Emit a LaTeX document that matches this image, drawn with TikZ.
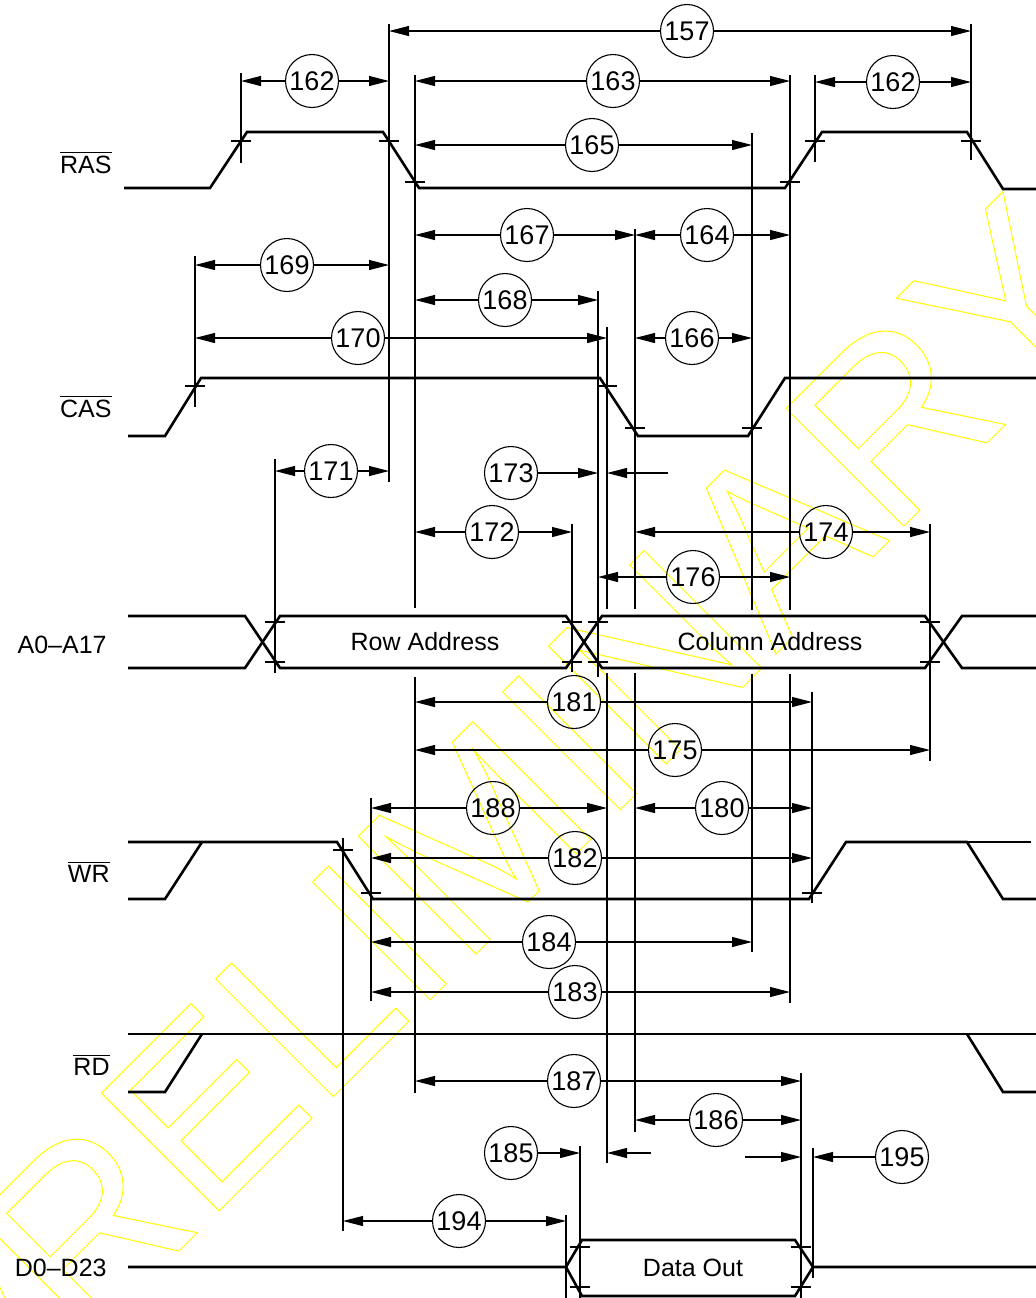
\documentclass[tikz,border=0pt]{standalone}
\usepackage{fontspec}
\setmainfont{Liberation Sans}
\usetikzlibrary{arrows.meta}

\begin{document}
\begin{tikzpicture}[
    x=0.5pt, y=-0.5pt,
    every node/.style={font=\fontsize{12.5}{14}\selectfont, inner sep=0pt},
    sig/.style={line width=1.3pt},
    thinline/.style={line width=0.55pt},
    dimline/.style={line width=0.55pt, -{Triangle[length=10pt, width=5pt]}},
    num/.style={circle, draw, line width=0.55pt, minimum size=26.5pt,
      font=\fontsize{13.5}{15}\selectfont},
  ]
    \useasboundingbox (0,0) rectangle (1036,1298);

    % 水印
    \node[rotate=45, anchor=base, font=\fontsize{121}{130}\selectfont] (wmark) at (546,884)
      {\special{pdf:literal direct 1 Tr 0.5 w 1 1 0 RG}PRELIMINARY\special{pdf:literal direct 0 Tr}};

    % 信号名
    \node[anchor=base east] (lras) at (112,173)  {$\overline{\mbox{RAS}}$};
    \node[anchor=base east] (lcas) at (112,417)  {$\overline{\mbox{CAS}}$};
    \node[anchor=base east] (ladr) at (107,653)  {A0--A17};
    \node[anchor=base east] (lwr)  at (110,882)  {$\overline{\mbox{WR}}$};
    \node[anchor=base east] (lrd)  at (110,1075) {$\overline{\mbox{RD}}$};
    \node[anchor=base east] (ldat) at (107,1276) {D0--D23};

    % 波形
    \draw[sig] (124,188) -- (210,188) -- (247,132) -- (383,132) -- (419,188) -- (785,188)
      -- (822,132) -- (967,132) -- (1003,189) -- (1036,189);
    \draw[sig] (128,436) -- (165,436) -- (201,378) -- (600,378) -- (638,436) -- (748,436)
      -- (785,378) -- (1036,378);
    \draw[sig] (128,616) -- (245,616) -- (280,668) -- (566,668) -- (602,616) -- (925,616)
      -- (962,668) -- (1036,668);
    \draw[sig] (128,668) -- (245,668) -- (280,616) -- (566,616) -- (602,668) -- (925,668)
      -- (962,616) -- (1036,616);
    \draw[sig] (128,842) -- (337,842) -- (373,899) -- (809,899) -- (846,842) -- (967,842)
      -- (1003,899) -- (1036,899);
    \draw[sig] (128,899) -- (165,899) -- (202,842);
    \draw[sig] (967,842) -- (1031,842);
    \draw[sig] (128,1034) -- (1036,1034);
    \draw[sig] (128,1092) -- (165,1092) -- (202,1034);
    \draw[sig] (967,1034) -- (1003,1092) -- (1036,1092);
    \draw[sig] (128,1267) -- (566,1267) -- (582,1240) -- (795,1240) -- (813,1267) -- (1036,1267);
    \draw[sig] (566,1267) -- (582,1296) -- (795,1296) -- (813,1267);

    % 总线上的文字
    \node[anchor=base] (trow) at (425,650)  {Row Address};
    \node[anchor=base] (tcol) at (770,650)  {Column Address};
    \node[anchor=base] (tdat) at (693,1276) {Data Out};

    % 参考线
    \foreach \x/\ya/\yb in {241/73/163, 389/24/482, 415/75/608, 415/677/1093, 195/256/407,
        275/459/673, 598/291/677, 607/327/609, 607/673/1163, 635/229/609, 635/673/1132,
        752/133/610, 752/674/952, 790/75/610, 790/674/1003, 815/75/162, 971/24/160,
        572/524/672, 930/524/761, 812/692/903, 343/838/1231, 371/798/1001,
        801/1073/1298, 580/1146/1298, 813/1148/1278, 566/1215/1298}
      \draw[thinline] (\x,\ya) -- (\x,\yb);

    % 刻度
    \foreach \x/\y in {241/141, 389/141, 415/182, 790/182, 815/141, 971/141,
        195/386, 607/386, 635/428, 752/428,
        275/622, 275/662, 572/622, 572/662, 598/622, 598/662, 930/622, 930/662,
        343/850, 371/893, 812/893, 580/1247, 580/1287, 801/1247, 801/1287}
      \draw[thinline] ({\x-10},\y) -- ({\x+10},\y);

    % 双向时间标注
    \foreach \n/\t/\xa/\xb/\y/\xc in {157/157/389/971/31/687, 162a/162/241/389/81/312,
        163/163/415/790/81/613, 162b/162/815/971/82/893, 165/165/415/752/145/592,
        167/167/415/635/235/527, 164/164/635/790/235/707, 169/169/195/389/265/287,
        168/168/415/598/300/505, 170/170/195/607/338/358, 166/166/635/752/338/692,
        171/171/275/389/471/331, 172/172/415/572/532/492, 174/174/635/930/532/826,
        176/176/598/790/577/693, 181/181/415/812/702/574, 175/175/415/930/750/675,
        188/188/371/607/808/493, 180/180/635/812/808/722, 182/182/371/812/858/575,
        184/184/371/752/942/549, 183/183/371/790/992/575, 187/187/415/801/1081/574,
        186/186/635/801/1120/716, 194/194/343/566/1221/459}
    {
      \node[num] (d\n) at (\xc,\y) {\t};
      \coordinate (d\n-l) at (\xa,\y);
      \coordinate (d\n-r) at (\xb,\y);
      \draw[dimline] (d\n) -- (d\n-l);
      \draw[dimline] (d\n) -- (d\n-r);
    }

    % 外侧箭头标注
    \node[num] (d173) at (511,473) {173};
    \coordinate (d173-r) at (598,473);
    \coordinate (d173-s) at (668,473);
    \coordinate (d173-e) at (607,473);
    \draw[dimline] (d173) -- (d173-r);
    \draw[dimline] (d173-s) -- (d173-e);

    \node[num] (d185) at (511,1153) {185};
    \coordinate (d185-r) at (580,1153);
    \coordinate (d185-s) at (651,1153);
    \coordinate (d185-e) at (607,1153);
    \draw[dimline] (d185) -- (d185-r);
    \draw[dimline] (d185-s) -- (d185-e);

    \node[num] (d195) at (902,1157) {195};
    \coordinate (d195-l) at (813,1157);
    \coordinate (d195-s) at (745,1157);
    \coordinate (d195-e) at (801,1157);
    \draw[dimline] (d195) -- (d195-l);
    \draw[dimline] (d195-s) -- (d195-e);
  \end{tikzpicture}
\end{document}
